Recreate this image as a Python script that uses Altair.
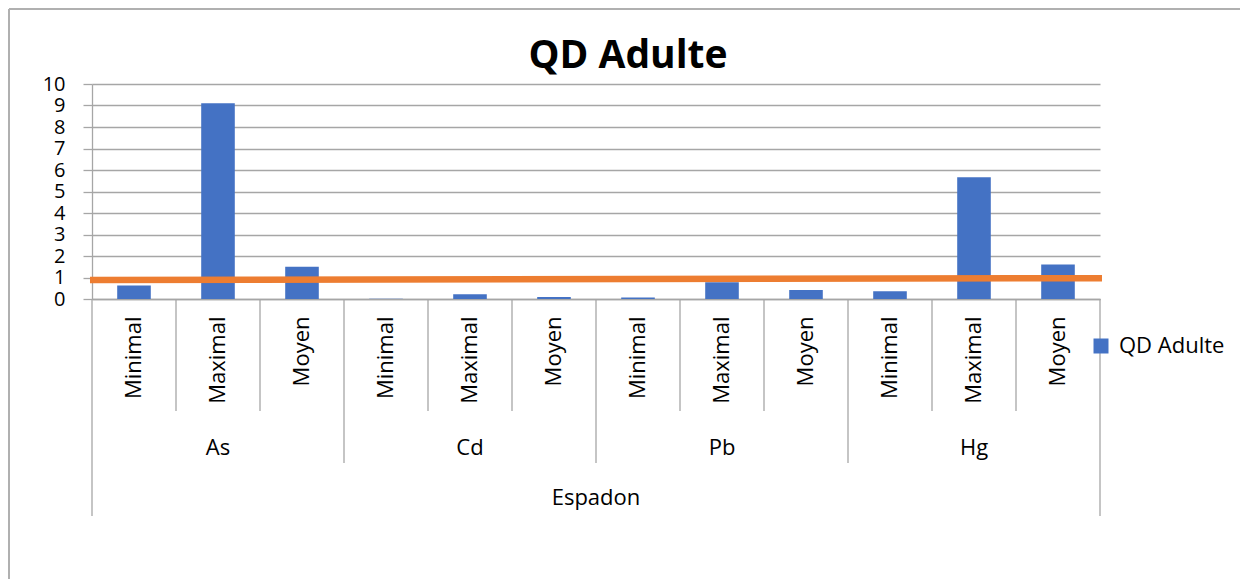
import altair as alt
import pandas as pd

# ---- data ----
metals = ["As", "Cd", "Pb", "Hg"]
stats = ["Minimal", "Maximal", "Moyen"]
values_as = [0.63, 9.1, 1.5]
values_cd = [0.01, 0.22, 0.09]
values_pb = [0.07, 0.78, 0.42]
values_hg = [0.36, 5.66, 1.61]
species = "Espadon"
series_name = "QD Adulte"
chart_title = "QD Adulte"
threshold_start = 0.88
threshold_end = 0.97
y_ticks = [0, 1, 2, 3, 4, 5, 6, 7, 8, 9, 10]

FONT = "Open Sans"
W, H = 1008, 215
L1, L2, L3 = 112, 164, 217

all_values = [values_as, values_cd, values_pb, values_hg]
rows = []
for m, vals in zip(metals, all_values):
    for s, v in zip(stats, vals):
        rows.append({"cat": f"{m}_{s}", "metal": m, "stat": s, "value": v, "series": series_name})
df = pd.DataFrame(rows)
order = list(df["cat"])

sep_rows = []
for i, r in enumerate(rows):
    lvl = 3 if i == 0 else (2 if r["stat"] == stats[0] else 1)
    sep_rows.append({"cat": r["cat"], "level": lvl})
sep_df = pd.DataFrame(sep_rows)
end_df = pd.DataFrame([{"cat": order[-1]}])

metal_df = pd.DataFrame([{"cat": f"{m}_{stats[1]}", "label": m} for m in metals])
species_df = pd.DataFrame([{"cat": f"{metals[2]}_{stats[0]}", "label": species}])
thr_df = pd.DataFrame([{"value": threshold_start, "value_end": threshold_end}])
title_df = pd.DataFrame([{"label": chart_title}])
dummy = pd.DataFrame([{"d": 0}])

xscale = alt.Scale(domain=order, paddingInner=0, paddingOuter=0)
yscale = alt.Scale(domain=[0, 10], nice=False)
yaxis = alt.Axis(values=y_ticks, tickCount=11, labelOverlap=False)

bars = alt.Chart(df).mark_bar(width={"band": 0.4}, color="#4472C4").encode(
    x=alt.X("cat:N", scale=xscale, title=None,
            axis=alt.Axis(labelExpr="split(datum.value, '_')[1]")),
    y=alt.Y("value:Q", scale=yscale, title=None, axis=yaxis),
    color=alt.Color("series:N",
                    scale=alt.Scale(domain=[series_name], range=["#4472C4"]),
                    legend=alt.Legend(title=None, orient="none", legendX=998, legendY=251,
                                      symbolType="square", symbolSize=225,
                                      symbolStrokeWidth=0, labelFontSize=22,
                                      labelFont=FONT, labelColor="#000000",
                                      labelOffset=7, padding=0)),
)

thr = alt.Chart(thr_df).mark_rule(color="#ED7D31", strokeWidth=6.5).encode(
    x=alt.value(-2), x2=alt.value(W + 2),
    y=alt.Y("value:Q", scale=yscale, title=None, axis=yaxis), y2="value_end:Q",
)

sep_color = "#a6a6a6"
seps = []
for lvl, length in [(1, L1), (2, L2), (3, L3)]:
    seps.append(
        alt.Chart(sep_df).transform_filter(alt.datum.level == lvl)
        .mark_rule(color=sep_color, strokeWidth=1.3)
        .encode(x=alt.X("cat:N", scale=xscale, bandPosition=0, title=None),
                y=alt.value(H), y2=alt.value(H + length))
    )
end_sep = alt.Chart(end_df).mark_rule(color=sep_color, strokeWidth=1.3).encode(
    x=alt.X("cat:N", scale=xscale, bandPosition=1, title=None),
    y=alt.value(H), y2=alt.value(H + L3))

metal_text = alt.Chart(metal_df).mark_text(font=FONT, fontSize=22, color="#000000",
                                           baseline="middle").encode(
    x=alt.X("cat:N", scale=xscale, title=None), y=alt.value(364), text="label:N")
species_text = alt.Chart(species_df).mark_text(font=FONT, fontSize=22, color="#000000",
                                               baseline="middle").encode(
    x=alt.X("cat:N", scale=xscale, bandPosition=0, title=None), y=alt.value(414),
    text="label:N")

title_text = alt.Chart(title_df).mark_text(font=FONT, fontSize=39, fontWeight="bold",
                                           color="#000000", baseline="alphabetic",
                                           align="center").encode(
    x=alt.value(536), y=alt.value(-16), text="label:N")

border_top = alt.Chart(dummy).mark_rule(color="#b0b0b0", strokeWidth=2).encode(
    x=alt.value(-83), x2=alt.value(W + 140), y=alt.value(-75))
border_left = alt.Chart(dummy).mark_rule(color="#b0b0b0", strokeWidth=2).encode(
    x=alt.value(-83), y=alt.value(-75), y2=alt.value(H + 290))

chart = alt.layer(bars, thr, *seps, end_sep, metal_text, species_text, title_text,
                  border_top, border_left).properties(
    width=W, height=H,
    autosize=alt.AutoSizeParams(type="none"),
    padding={"left": 84, "top": 76, "right": 140, "bottom": 280},
).configure_view(stroke=None).configure_axisY(
    grid=True, gridColor="#a6a6a6", gridWidth=1.3,
    domainColor="#a6a6a6", domainWidth=1.3,
    tickColor="#a6a6a6", tickSize=9, tickWidth=1.3,
    labelFont=FONT, labelFontSize=20, labelColor="#000000", labelPadding=18,
    labelOverlap=False, labelBound=False,
).configure_axisX(
    grid=False, ticks=False, tickSize=0,
    domainColor="#a6a6a6", domainWidth=1.3,
    labelFont=FONT, labelFontSize=22, labelColor="#000000",
    labelAngle=270, labelAlign="right", labelBaseline="middle", labelPadding=17,
)

chart.save("out.html", embed_options={"renderer": "svg", "actions": False})
